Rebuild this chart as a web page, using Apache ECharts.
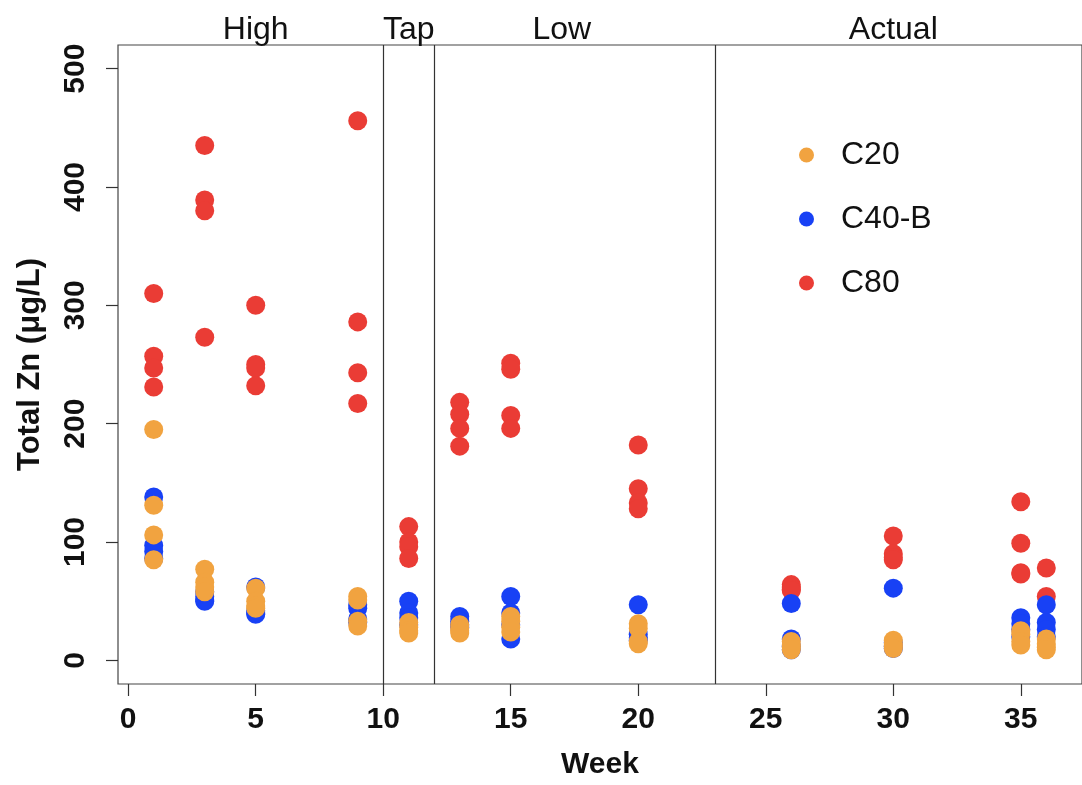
<!DOCTYPE html>
<html>
<head>
<meta charset="utf-8">
<title>Total Zn by week</title>
<script src="https://cdn.jsdelivr.net/npm/echarts@6/dist/echarts.min.js"></script>
<style>
  html, body { margin: 0; padding: 0; background: #fff; }
  #zn_chart { width: 1082px; height: 785px; }
</style>
</head>
<body>
<div id="zn_chart"></div>
<script>
// sampling weeks, one entry per column of points
var weeks = [1, 3, 5, 9, 11, 13, 15, 20, 26, 30, 35, 36];

// replicate values per week (ug/L), same order as weeks
var c20 = [
    [195, 131, 106, 85], [77, 66, 62, 58], [61, 50, 46, 44], [54, 51, 33, 29],
    [32, 28, 25, 23], [30, 27, 25, 23], [37, 33, 28, 24], [31, 27, 16, 14],
    [16, 13, 11, 9], [17, 14, 12, 10], [25, 22, 16, 13], [18, 14, 11, 9]
];
var c40b = [
    [138, 97, 92, 86], [58, 54, 51, 50], [62, 42, 40, 39], [47, 44, 35, 32],
    [50, 40, 36, 30], [37, 33, 30, 28], [54, 40, 30, 18], [47, 22, 19, 17],
    [48, 18, 12, 9], [61, 15, 12, 10], [36, 31, 26, 20], [47, 32, 26, 20]
];
var c80 = [
    [310, 257, 247, 231], [435, 389, 380, 273], [300, 250, 247, 232], [456, 286, 243, 217],
    [113, 100, 96, 86], [218, 208, 196, 181], [251, 246, 207, 196], [182, 145, 133, 128],
    [64, 62, 60, 59], [105, 90, 87, 85], [134, 99, 74, 73], [78, 54]
];

// dosing phases along the top
var phaseNames = ['High', 'Tap', 'Low', 'Actual'];
var phaseCenters = [5, 11, 17, 30];
var phaseBounds = [10, 12, 23];

var xTicks = [0, 5, 10, 15, 20, 25, 30, 35];
var yTicks = [0, 100, 200, 300, 400, 500];

var FONT = 'Liberation Sans, Arial, Helvetica, sans-serif';

function toPoints(groups) {
    var out = [];
    groups.forEach(function (vals, i) {
        vals.forEach(function (v) { out.push([weeks[i], v]); });
    });
    return out;
}

var chart = echarts.init(document.getElementById('zn_chart'));
var option = {
    animation: false,
    textStyle: { fontFamily: FONT },
    grid: {
        left: 118, top: 45, width: 973, height: 644,
        show: true, borderColor: '#444', borderWidth: 1.2, backgroundColor: 'transparent'
    },
    legend: {
        orient: 'vertical',
        left: 794,
        top: 134,
        icon: 'circle',
        itemWidth: 15,
        itemHeight: 15,
        itemGap: 32,
        data: ['C20', 'C40-B', 'C80'],
        textStyle: { fontFamily: FONT, fontSize: 32, lineHeight: 32, color: '#111', padding: [0, 0, 0, 22] }
    },
    xAxis: [
        {
            type: 'value', min: -0.4, max: 37.4,
            name: 'Week', nameLocation: 'middle', nameGap: 66,
            nameTextStyle: { fontFamily: FONT, fontSize: 30, fontWeight: 'bold', color: '#111', lineHeight: 30 },
            axisLine: { show: false, onZero: false },
            splitLine: { show: false },
            axisTick: { show: true, customValues: xTicks, length: 12, lineStyle: { color: '#333', width: 1.2 } },
            axisLabel: { customValues: xTicks, margin: 21, fontSize: 30, lineHeight: 30, fontWeight: 'bold', color: '#111' }
        },
        {
            type: 'value', min: -0.4, max: 37.4, position: 'top',
            axisLine: { show: false, onZero: false },
            axisTick: { show: false },
            splitLine: { show: false },
            axisLabel: {
                customValues: phaseCenters, margin: -1, fontSize: 32, lineHeight: 32, color: '#111',
                formatter: function (v) { return phaseNames[phaseCenters.indexOf(v)]; }
            }
        }
    ],
    yAxis: {
        type: 'value', min: -20, max: 520,
        name: 'Total Zn (μg/L)', nameLocation: 'middle', nameGap: 72, nameRotate: 90,
        nameTextStyle: { fontFamily: FONT, fontSize: 31, fontWeight: 'bold', color: '#111', lineHeight: 31 },
        axisLine: { show: false, onZero: false },
        splitLine: { show: false },
        axisTick: { show: true, customValues: yTicks, length: 12, lineStyle: { color: '#333', width: 1.2 } },
        axisLabel: { customValues: yTicks, rotate: 90, margin: 27, fontSize: 30, lineHeight: 30, fontWeight: 'bold', color: '#111' }
    },
    series: [
        {
            name: 'C80', type: 'scatter', symbolSize: 19,
            itemStyle: { color: '#EA3C35', opacity: 1 },
            data: toPoints(c80),
            markLine: {
                silent: true, symbol: ['none', 'none'],
                label: { show: false },
                lineStyle: { type: 'solid', color: '#333', width: 1.2 },
                data: phaseBounds.map(function (b) { return { xAxis: b }; })
            }
        },
        {
            name: 'C40-B', type: 'scatter', symbolSize: 19,
            itemStyle: { color: '#1841F5', opacity: 1 },
            data: toPoints(c40b)
        },
        {
            name: 'C20', type: 'scatter', symbolSize: 19,
            itemStyle: { color: '#F1A340', opacity: 1 },
            data: toPoints(c20)
        }
    ]
};
chart.setOption(option);
window.addEventListener('resize', function () {
    chart.resize();
});
</script>
</body>
</html>
